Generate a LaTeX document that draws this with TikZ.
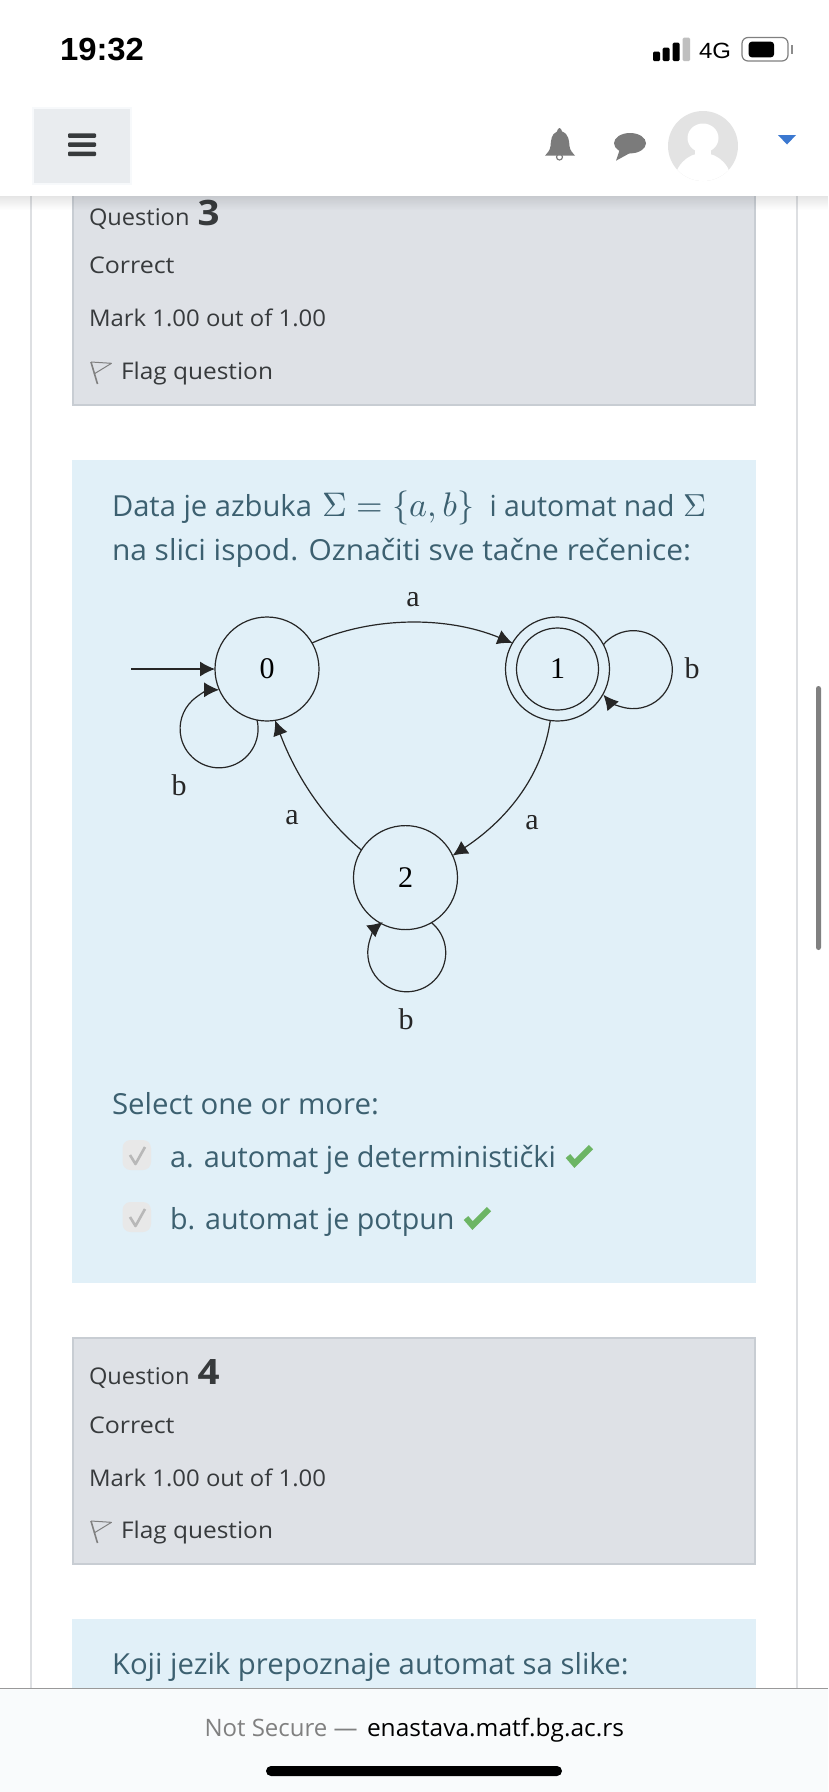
\documentclass[tikz,border=0pt]{standalone}
\usepackage{fontspec}
\usepackage{graphicx}
\setmainfont{Open Sans}
\newfontfamily\serifb{Liberation Serif}
\newfontfamily\arialf{Liberation Sans}
\usetikzlibrary{arrows.meta}
\definecolor{pageblue}{HTML}{E1F0F8}
\definecolor{qgrey}{HTML}{DEE1E6}
\definecolor{qborder}{HTML}{C8CDD3}
\definecolor{frameline}{HTML}{DDDFE2}
\definecolor{bluetext}{HTML}{3C6070}
\definecolor{darktext}{HTML}{373A3C}
\definecolor{okgreen}{HTML}{6CB564}
\definecolor{iconGrey}{HTML}{7B7B7B}
\definecolor{caretblue}{HTML}{3B78D0}
\definecolor{btnfill}{HTML}{E9ECEF}
\definecolor{btnline}{HTML}{F7F9FB}
\definecolor{barfill}{HTML}{F9FBFC}
\definecolor{avatargrey}{HTML}{E3E3E3}
\newcommand{\fs}[1]{\fontsize{#1}{#1}\selectfont}
\newcommand{\W}[2]{\resizebox{#1pt}{\height}{#2}}
\newcommand{\U}[2]{\resizebox{#1pt}{!}{#2}}
\tikzset{
  txt/.style={anchor=base west,inner sep=0pt,outer sep=0pt},
  qtxt/.style={txt,text=darktext,font=\fs{23}},
  btxt/.style={txt,text=bluetext,font=\fs{29}},
  state/.style={circle,draw=black!85,line width=1.2pt,minimum size=104pt,inner sep=0pt,outer sep=0pt,font=\serifb\fs{30}},
  inner state/.style={circle,draw=black!85,line width=1.2pt,minimum size=82pt,inner sep=0pt,outer sep=0pt,font=\serifb\fs{30}},
  edge label/.style={inner sep=0pt,font=\serifb\fs{30},text=black!85},
  trans/.style={draw=black!85,line width=1.2pt,-{Latex[length=15pt,width=15pt]}},
  qbox/.style={draw=qborder,fill=qgrey,line width=2pt},
  grycheck/.style={draw=black!28,line width=2.6pt,line join=round},
  grncheck/.style={draw=okgreen,line width=6pt,line join=miter},
  flagpole/.style={draw=black!50,line width=1.6pt},
  flagcloth/.style={draw=black!50,line width=1pt,line join=round}
}
\begin{document}
\begin{tikzpicture}[x=1pt,y=-1pt]
\useasboundingbox (0,0) rectangle (828,1792);
\fill[white] (0,0) rectangle (828,1792);
% page frame
\draw[frameline,line width=1.5pt] (31,190) -- (31,1690) (797,190) -- (797,1690);
% question 3 box
\path[qbox] (73,180) rectangle (755,405);
\node[qtxt] (q3) at (89,225) {\W{100.5}{Question}};
\node[txt,text=darktext,font=\bfseries\fs{35}] (q3n) at (197.5,225) {\W{22}{3}};
\node[qtxt] (q3c) at (89,273.5) {\W{85.5}{Correct}};
\node[qtxt] (q3m) at (89,326) {\W{237}{Mark 1.00 out of 1.00}};
\node[qtxt] (q3f) at (121,379) {\W{152}{Flag question}};
\draw[flagpole] (91,362) -- (97.5,384);
\draw[flagcloth] (91,362) -- (111.5,363.3) -- (94,374);
% main blue box
\fill[pageblue] (72,460) rectangle (756,1283);
\node[btxt] (l1a) at (112,516) {\W{200}{Data je azbuka}};
\node[txt,text=bluetext] (l1m) at (322,516) {\U{152}{$\Sigma=\{a,b\}$}};
\node[btxt] (l1b) at (489.5,516) {\W{185}{i automat nad}};
\node[txt,text=bluetext] (l1s) at (683,516) {\U{23}{$\Sigma$}};
\node[btxt] (l2) at (112,560) {\W{579}{na slici ispod. Označiti sve tačne rečenice:}};
% automaton
\node[state] (s0) at (267,669) {0};
\node[state] (s1) at (557.5,669) {};
\node[inner state] (s1i) at (557.5,669) {1};
\node[state] (s2) at (405.5,877.6) {2};
\coordinate (init) at (131,669);
\draw[trans] (init) -- (s0);
\draw[trans] (s0.30) .. controls (372,616) and (447,616) .. (s1.150);
\draw[trans] (s1.262) .. controls (543,772) and (511,817) .. (s2.25);
\draw[trans] (s2.148) .. controls (323,818) and (295,774) .. (s0.-81);
\draw[trans] (s0.259.5) arc[start angle=13,end angle=-270,radius=39pt];
\draw[trans] (s1.28) arc[start angle=140,end angle=-140,radius=39pt];
\draw[trans] (s2.-60) arc[start angle=50.6,end angle=-232,radius=39pt];
\node[edge label] (la) at (413,600) {a};
\node[edge label] (lb1) at (692,668) {b};
\node[edge label] (lb0) at (179,785) {b};
\node[edge label] (la20) at (292,818) {a};
\node[edge label] (la12) at (532,823) {a};
\node[edge label] (lb2) at (406,1019) {b};
% answers
\node[btxt] (sel) at (112,1114) {\W{267}{Select one or more:}};
\fill[black!9,rounded corners=8pt] (122.5,1140) rectangle (151,1170);
\draw[grycheck] (130,1155) -- (135.5,1164) -- (145,1147);
\node[btxt] (a1) at (170,1167) {\W{386}{a. automat je deterministički}};
\draw[grncheck] (568,1156) -- (574.5,1163.5) -- (591,1147);
\fill[black!9,rounded corners=8pt] (122.5,1202) rectangle (151,1232);
\draw[grycheck] (130,1217) -- (135.5,1226) -- (145,1209);
\node[btxt] (a2) at (170,1229) {\W{284.5}{b. automat je potpun}};
\draw[grncheck] (466,1218) -- (472.5,1225.5) -- (489,1209);
% question 4 box
\path[qbox] (73,1338) rectangle (755,1564);
\node[qtxt] (q4) at (89,1384) {\W{100.5}{Question}};
\node[txt,text=darktext,font=\bfseries\fs{35}] (q4n) at (197.5,1384) {\W{22}{4}};
\node[qtxt] (q4c) at (89,1433) {\W{85.5}{Correct}};
\node[qtxt] (q4m) at (89,1486) {\W{237}{Mark 1.00 out of 1.00}};
\node[qtxt] (q4f) at (121,1538) {\W{152}{Flag question}};
\draw[flagpole] (91,1521) -- (97.5,1543);
\draw[flagcloth] (91,1521) -- (111.5,1522.3) -- (94,1533);
% next blue box
\fill[pageblue] (72,1619) rectangle (756,1690);
\node[btxt] (k) at (112,1674) {\W{516.5}{Koji jezik prepoznaje automat sa slike:}};
% scroll bar
\fill[black!50,rounded corners=2.5pt] (816,686) rectangle (821,950);
% nav shadow
\foreach \i in {0,...,13} {\fill[black,opacity={0.10*(1-\i/14)}] (0,196+\i) rectangle (828,197+\i);}
% nav bar
\fill[white] (0,0) rectangle (828,196);
\draw[btnline,line width=2pt,fill=btnfill] (33,108) rectangle (130.5,184);
\fill[darktext,rounded corners=1pt] (68,133.3) rectangle (96,137.8) (68,142.3) rectangle (96,146.8) (68,151.5) rectangle (96,156);
% bell
\fill[iconGrey] (559.5,128) .. controls (561,128) and (561.5,130) .. (562,131.5) .. controls (569,134) and (569,141) .. (569.5,146) .. controls (570,151) and (573,153) .. (575,155.7) -- (545,155.7) .. controls (547,153) and (550,151) .. (550.5,146) .. controls (551,141) and (551,134) .. (557,131.5) .. controls (557.5,130) and (558,128) .. (559.5,128) -- cycle;
\draw[iconGrey,line width=1.2pt] (559.5,157) ellipse[x radius=3pt,y radius=3pt];
% chat
\fill[iconGrey] (630,143.2) ellipse[x radius=16pt,y radius=10.2pt];
\fill[iconGrey] (620,149) -- (616,160.7) -- (630,153) -- cycle;
% avatar
\begin{scope}
\clip (703,146) circle[radius=35pt];
\fill[avatargrey] (668,110) rectangle (738,182);
\fill[white] (703,138) ellipse[x radius=15.5pt,y radius=14.5pt];
\fill[white] (695,145) rectangle (711,158);
\fill[white] (703,184) ellipse[x radius=29pt,y radius=31pt];
\end{scope}
% caret
\fill[caretblue] (778,135) -- (796,135) -- (787,144.5) -- cycle;
% status bar
\node[txt,text=black,font=\arialf\bfseries\fs{32}] (clock) at (60,60) {\W{84}{19:32}};
\fill[black,rounded corners=1.2pt] (653,51.7) rectangle (660,61) (662.6,47.7) rectangle (669.5,61) (672.7,42.7) rectangle (679.5,61);
\fill[black!25,rounded corners=1.2pt] (682.7,37.7) rectangle (690,61);
\node[txt,text=black,font=\arialf\fs{22}] (net) at (699,58) {\W{32}{4G}};
\draw[black!50,line width=1.2pt,rounded corners=6pt] (742,37.5) rectangle (788,61);
\fill[black,rounded corners=3pt] (748.7,41.7) rectangle (774,57.3);
\fill[black!45] (790.5,45) rectangle (793,54);
% bottom bar
\fill[barfill] (0,1688) rectangle (828,1792);
\draw[black!40,line width=0.9pt] (0,1688) -- (828,1688);
\node[txt,text=black!50,font=\fs{24}] (ns) at (204.5,1736) {\W{153}{Not Secure ---}};
\node[txt,text=black,font=\fs{24}] (url) at (367,1736) {\W{257}{enastava.matf.bg.ac.rs}};
\fill[black,rounded corners=5pt] (266,1766) rectangle (562,1776);
\end{tikzpicture}
\end{document}
